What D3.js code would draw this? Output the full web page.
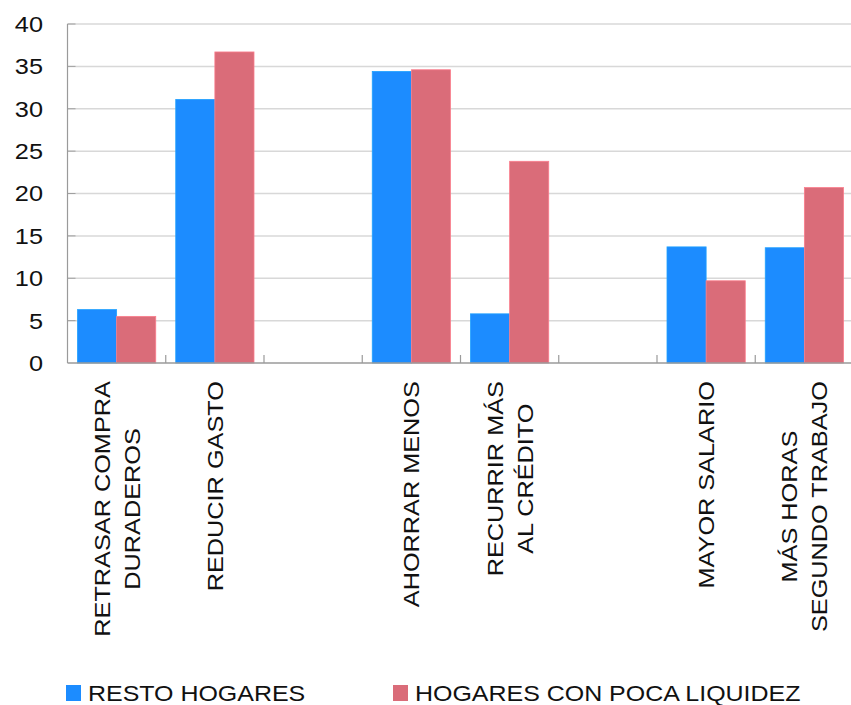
<!DOCTYPE html>
<html>
<head>
<meta charset="utf-8">
<script src="https://cdn.jsdelivr.net/npm/d3@7"></script>
<style>
  html, body { margin: 0; padding: 0; background: #fff; }
  svg { display: block; font-family: "Liberation Sans", Arial, Helvetica, sans-serif; }
</style>
</head>
<body>
<svg id="chart" width="851" height="705"></svg>
<script>
// ---- data ----
const categories = [
  ["RETRASAR COMPRA", "DURADEROS"],
  ["REDUCIR GASTO"],
  [],
  ["AHORRAR MENOS"],
  ["RECURRIR MÁS", "AL CRÉDITO"],
  [],
  ["MAYOR SALARIO"],
  ["MÁS HORAS", "SEGUNDO TRABAJO"]
];
const seriesNames = ["RESTO HOGARES", "HOGARES CON POCA LIQUIDEZ"];
const restoHogares = [6.3, 31.1, null, 34.4, 5.8, null, 13.7, 13.6];
const pocaLiquidez = [5.5, 36.7, null, 34.6, 23.8, null, 9.7, 20.7];
const yTicks = [0, 5, 10, 15, 20, 25, 30, 35, 40];
const colors = ["#1c8cff", "#da6c79"];

// ---- layout ----
const svg = d3.select("#chart");
const pLeft = 67.5, pRight = 853.5, pTop = 24, pBottom = 363;
const stretch = 1.15;

const x = d3.scaleBand().domain(d3.range(categories.length)).range([pLeft, pRight]).paddingInner(0).paddingOuter(0);
const inner = d3.scaleBand().domain([0, 1]).range([10, x.bandwidth() - 10]).padding(0);
const y = d3.scaleLinear().domain([0, 40]).range([pBottom, pTop]);

// gridlines
svg.append("g").selectAll("line").data(yTicks.filter(d => d > 0)).join("line")
  .attr("x1", pLeft).attr("x2", 851)
  .attr("y1", d => y(d)).attr("y2", d => y(d))
  .attr("stroke", "#d8d8d8").attr("stroke-width", 1.5);

// inner ticks on y axis
svg.append("g").selectAll("line").data(yTicks.filter(d => d > 0)).join("line")
  .attr("x1", pLeft).attr("x2", pLeft + 8)
  .attr("y1", d => y(d)).attr("y2", d => y(d))
  .attr("stroke", "#a0a0a0").attr("stroke-width", 1);

// bars
const series = [restoHogares, pocaLiquidez];
series.forEach((vals, si) => {
  svg.append("g").selectAll("rect")
    .data(vals.map((v, i) => ({ v, i })).filter(d => d.v != null))
    .join("rect")
    .attr("x", d => x(d.i) + inner(si))
    .attr("width", inner.bandwidth())
    .attr("y", d => y(d.v))
    .attr("height", d => y(0) - y(d.v))
    .attr("fill", colors[si])
    .attr("stroke", d3.color(colors[si]).brighter(0.4))
    .attr("stroke-width", 0.8);
});

// axes lines
svg.append("line").attr("x1", pLeft).attr("x2", pLeft).attr("y1", pTop).attr("y2", pBottom)
  .attr("stroke", "#9a9a9a").attr("stroke-width", 1.2);
svg.append("line").attr("x1", pLeft).attr("x2", 851).attr("y1", pBottom).attr("y2", pBottom)
  .attr("stroke", "#9a9a9a").attr("stroke-width", 1.5);
// x slot ticks pointing up
svg.append("g").selectAll("line").data(d3.range(1, categories.length)).join("line")
  .attr("x1", d => x(d)).attr("x2", d => x(d))
  .attr("y1", pBottom - 8).attr("y2", pBottom)
  .attr("stroke", "#9a9a9a").attr("stroke-width", 1.2);

// y tick labels
const yl = svg.append("g").selectAll("g").data(yTicks).join("g")
  .attr("transform", d => `translate(43,${y(d)}) scale(${stretch},1)`);
yl.append("text")
  .attr("text-anchor", "end")
  .attr("dy", "0.36em")
  .attr("font-size", 22)
  .attr("fill", "#111")
  .text(d => d);

// x category labels (rotated)
const fs = 22, lineGap = 30, labelTop = 381;
categories.forEach((lines, i) => {
  if (!lines.length) return;
  const cx = x(i) + x.bandwidth() / 2;
  const g = svg.append("g").attr("transform", `translate(${cx},${labelTop}) rotate(-90)`);
  const texts = lines.map((t, li) => {
    const gg = g.append("g");
    const tx = gg.append("text").attr("font-size", fs).attr("fill", "#111")
      .attr("text-anchor", "middle").text(t);
    return { gg, tx, li };
  });
  const maxW = d3.max(texts, t => t.tx.node().getComputedTextLength()) * stretch;
  const n = lines.length;
  texts.forEach(t => {
    const baseline = 8 + (t.li - (n - 1) / 2) * lineGap;
    t.gg.attr("transform", `translate(${-maxW / 2},${baseline}) scale(${stretch},1)`);
  });
});

// legend
const legendX = [66, 393];
const leg = svg.append("g").selectAll("g").data(seriesNames).join("g")
  .attr("transform", (d, i) => `translate(${legendX[i]},685)`);
leg.append("rect").attr("width", 15).attr("height", 16).attr("fill", (d, i) => colors[i]);
leg.append("g").attr("transform", `translate(22,15.5) scale(1.135,1)`)
  .append("text").attr("font-size", 22).attr("fill", "#111").text(d => d);
</script>
</body>
</html>
